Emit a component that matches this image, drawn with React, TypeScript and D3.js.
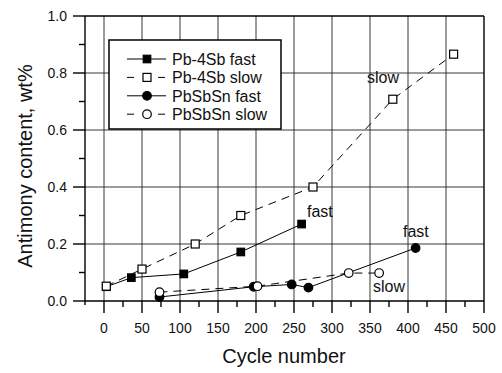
import React from "react";
import * as d3 from "d3";

// Cycle number vs. antimony content (wt%)
const pb4sbFastX = [3, 36, 105, 180, 260];
const pb4sbFastY = [0.05, 0.082, 0.095, 0.172, 0.27];
const pb4sbSlowX = [3, 50, 120, 180, 275, 380, 460];
const pb4sbSlowY = [0.052, 0.112, 0.2, 0.3, 0.4, 0.708, 0.866];
const pbsbsnFastX = [73, 197, 247, 269, 410];
const pbsbsnFastY = [0.014, 0.05, 0.058, 0.047, 0.186];
const pbsbsnSlowX = [73, 202, 322, 362];
const pbsbsnSlowY = [0.031, 0.052, 0.098, 0.098];

const xMajorTicks = [0, 50, 100, 150, 200, 250, 300, 350, 400, 450, 500];
const xMinorTicks = [25, 75, 125, 175, 225, 275, 325, 375, 425, 475];
const yMajorTicks = [0, 0.2, 0.4, 0.6, 0.8, 1.0];
const yMinorTicks = [0.1, 0.3, 0.5, 0.7, 0.9];

const legendLabels = ["Pb-4Sb fast", "Pb-4Sb slow", "PbSbSn fast", "PbSbSn slow"];

const FONT = "'Liberation Sans', Arial, Helvetica, sans-serif";

type Series = {
  xs: number[];
  ys: number[];
  dashed: boolean;
  shape: "square" | "circle";
  filled: boolean;
};

const series: Series[] = [
  { xs: pb4sbFastX, ys: pb4sbFastY, dashed: false, shape: "square", filled: true },
  { xs: pbsbsnFastX, ys: pbsbsnFastY, dashed: false, shape: "circle", filled: true },
  { xs: pb4sbSlowX, ys: pb4sbSlowY, dashed: true, shape: "square", filled: false },
  { xs: pbsbsnSlowX, ys: pbsbsnSlowY, dashed: true, shape: "circle", filled: false },
];

const legendSeries = [series[0], series[2], series[1], series[3]];

function Marker({ cx, cy, shape, filled }: { cx: number; cy: number; shape: string; filled: boolean }) {
  if (shape === "square") {
    const s = filled ? 7.5 : 8;
    return (
      <rect
        x={cx - s / 2}
        y={cy - s / 2}
        width={s}
        height={s}
        fill={filled ? "#000" : "#fff"}
        stroke="#000"
        strokeWidth={1.2}
      />
    );
  }
  return <circle cx={cx} cy={cy} r={4.3} fill={filled ? "#000" : "#fff"} stroke="#000" strokeWidth={1.2} />;
}

export default function App() {
  const width = 502;
  const height = 373;
  const x = d3.scaleLinear().domain([-25, 500]).range([85, 484]);
  const y = d3.scaleLinear().domain([0, 1]).range([301, 16]);

  const line = d3
    .line<[number, number]>()
    .x((d) => x(d[0]))
    .y((d) => y(d[1]));

  const x0 = x(-25);
  const x1 = x(500);
  const y0 = y(0);
  const y1 = y(1);

  return (
    <svg
      width={width}
      height={height}
      style={{ position: "absolute", left: 0, top: 0, background: "#fff" }}
      fontFamily={FONT}
    >
      <rect x={0} y={0} width={width} height={height} fill="#fff" />

      {/* grid */}
      {xMajorTicks
        .filter((t) => t < 500)
        .map((t) => (
          <line key={"gx" + t} x1={x(t)} x2={x(t)} y1={y0} y2={y1} stroke="#222" strokeWidth={0.9} />
        ))}
      {yMajorTicks
        .filter((t) => t > 0 && t < 1)
        .map((t) => (
          <line key={"gy" + t} x1={x0} x2={x1} y1={y(t)} y2={y(t)} stroke="#222" strokeWidth={0.9} />
        ))}

      {/* frame */}
      <line x1={x0} x2={x0} y1={y1} y2={y0 + 4} stroke="#000" strokeWidth={1.4} />
      <line x1={x1} x2={x1} y1={y1} y2={y0} stroke="#000" strokeWidth={1.4} />
      <line x1={x0} x2={x1} y1={y1} y2={y1} stroke="#000" strokeWidth={1.4} />
      <line x1={x0} x2={x1} y1={y0} y2={y0} stroke="#000" strokeWidth={1.4} />

      {/* y ticks */}
      {yMajorTicks.map((t) => (
        <g key={"yt" + t}>
          <line x1={x0 - 12} x2={x0} y1={y(t)} y2={y(t)} stroke="#000" strokeWidth={1.4} />
          <text x={67} y={y(t) + 5} textAnchor="end" fontSize={14} fill="#111">
            {t.toFixed(1)}
          </text>
        </g>
      ))}
      {yMinorTicks.map((t) => (
        <line key={"ym" + t} x1={x0 - 6} x2={x0} y1={y(t)} y2={y(t)} stroke="#000" strokeWidth={1.4} />
      ))}

      {/* x ticks */}
      {xMajorTicks.map((t) => (
        <g key={"xt" + t}>
          <line x1={x(t)} x2={x(t)} y1={y0} y2={y0 + 12} stroke="#000" strokeWidth={1.4} />
          <text x={x(t)} y={333} textAnchor="middle" fontSize={14} fill="#111">
            {t}
          </text>
        </g>
      ))}
      {xMinorTicks.map((t) => (
        <line key={"xm" + t} x1={x(t)} x2={x(t)} y1={y0} y2={y0 + 6} stroke="#000" strokeWidth={1.4} />
      ))}

      {/* axis titles */}
      <text x={284} y={363} textAnchor="middle" fontSize={20} fill="#111">
        Cycle number
      </text>
      <text
        transform={`translate(32,166) rotate(-90)`}
        textAnchor="middle"
        fontSize={20}
        fill="#111"
      >
        Antimony content, wt%
      </text>

      {/* series lines */}
      {series.map((s, i) => (
        <path
          key={"l" + i}
          d={line(s.xs.map((v, j) => [v, s.ys[j]] as [number, number])) || ""}
          fill="none"
          stroke="#000"
          strokeWidth={1}
          strokeDasharray={s.dashed ? "8,6" : undefined}
        />
      ))}
      {/* markers */}
      {series.map((s, i) => (
        <g key={"m" + i}>
          {s.xs.map((v, j) => (
            <Marker key={j} cx={x(v)} cy={y(s.ys[j])} shape={s.shape} filled={s.filled} />
          ))}
        </g>
      ))}

      {/* annotations */}
      <text x={367} y={83} fontSize={16} fill="#111">slow</text>
      <text x={307} y={216.5} fontSize={16} fill="#111">fast</text>
      <text x={403} y={237} fontSize={16} fill="#111">fast</text>
      <text x={373} y={291.5} fontSize={16} fill="#111">slow</text>

      {/* legend */}
      <rect x={109} y={40} width={172} height={89} fill="#fff" stroke="#000" strokeWidth={1.5} />
      {legendLabels.map((label, i) => {
        const s = legendSeries[i];
        const base = 65 + i * 18.4;
        const cy = base - 6;
        return (
          <g key={"lg" + i}>
            <line
              x1={127}
              x2={166}
              y1={cy}
              y2={cy}
              stroke="#000"
              strokeWidth={1}
              strokeDasharray={s.dashed ? "7,24,7" : undefined}
            />
            <Marker cx={147} cy={cy} shape={s.shape} filled={s.filled} />
            <text x={172} y={base} fontSize={16} fill="#111">
              {label}
            </text>
          </g>
        );
      })}
    </svg>
  );
}
